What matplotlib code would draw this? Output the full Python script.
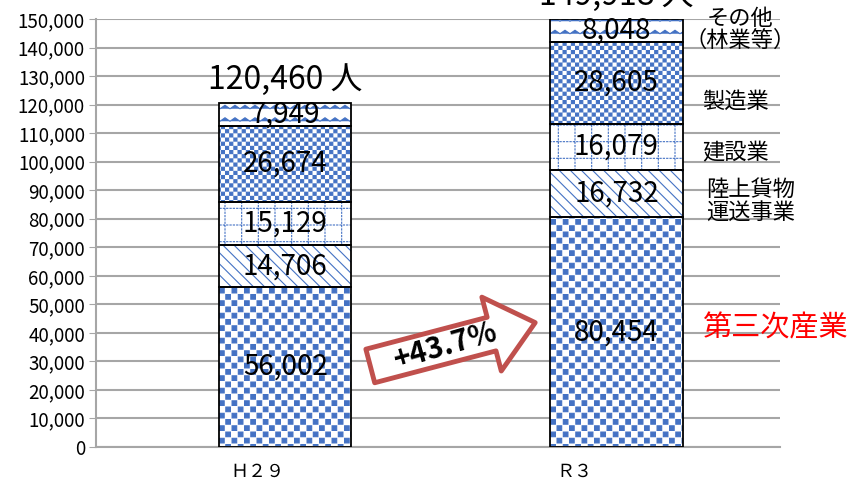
import warnings
import numpy as np
import matplotlib
matplotlib.use("Agg")
import matplotlib.pyplot as plt
import matplotlib.hatch as mhatch
from matplotlib.path import Path
from matplotlib.ticker import FuncFormatter, MultipleLocator
from matplotlib.transforms import ScaledTranslation

warnings.filterwarnings("ignore")

years = ["Ｈ２９", "Ｒ３"]
sectors = ["第三次産業", "陸上貨物運送事業", "建設業", "製造業", "その他（林業等）"]
h29 = [56002, 14706, 15129, 26674, 7949]
r3 = [80454, 16732, 16079, 28605, 8048]
growth_label = "+43.7%"

HATCH_LW = 0.8  # points


# extra hatch letters: "z" wavy rows, "g" dotted grid, "c"/"k" checkerboards
class ZigZag(mhatch.HatchPatternBase):
    def __init__(self, hatch, density):
        self.num_lines = hatch.count('z') * 8
        self.steps = 20
        self.num_vertices = self.num_lines * (self.steps + 1)

    def set_vertices_and_codes(self, vertices, codes):
        n = self.steps + 1
        xs = np.linspace(0, 1, n)
        bump = np.where(np.arange(n) % 2 == 0, 0.0, 0.035)
        for i in range(self.num_lines):
            y0 = (i + 0.3) / self.num_lines
            vertices[i * n:(i + 1) * n, 0] = xs
            vertices[i * n:(i + 1) * n, 1] = y0 + bump
            codes[i * n] = Path.MOVETO
            codes[i * n + 1:(i + 1) * n] = Path.LINETO


class DotGrid(mhatch.HatchPatternBase):
    def __init__(self, hatch, density):
        self.num_lines = hatch.count('g') * 6
        self.dots = 30
        self.num_vertices = self.num_lines * self.dots * 4

    def set_vertices_and_codes(self, vertices, codes):
        k = 0
        for i in range(self.num_lines):
            c = (i + 0.5) / self.num_lines
            for j in range(self.dots):
                a = j / self.dots
                b = a + 0.35 / self.dots
                for p, q in (((a, c), (b, c)), ((c, a), (c, b))):
                    vertices[k] = p
                    vertices[k + 1] = q
                    codes[k] = Path.MOVETO
                    codes[k + 1] = Path.LINETO
                    k += 2


class Checker(mhatch.HatchPatternBase):
    def __init__(self, hatch, density):
        self.n = hatch.count('c') * 24 + hatch.count('k') * 16
        self.cells = [(i, j) for i in range(self.n) for j in range(self.n)
                      if (i + j) % 2 == 0]
        self.num_vertices = len(self.cells) * 5

    def set_vertices_and_codes(self, vertices, codes):
        if not self.cells:
            return
        half = 0.37 / self.n
        for k, (i, j) in enumerate(self.cells):
            cx = (i + 0.5) / self.n
            cy = (j + 0.5) / self.n
            vertices[k * 5:k * 5 + 5] = [(cx - half, cy - half), (cx + half, cy - half),
                                         (cx + half, cy + half), (cx - half, cy + half),
                                         (cx - half, cy - half)]
            codes[k * 5] = Path.MOVETO
            codes[k * 5 + 1:k * 5 + 4] = Path.LINETO
            codes[k * 5 + 4] = Path.CLOSEPOLY


mhatch._hatch_types.extend([ZigZag, DotGrid, Checker])

plt.rcParams['font.family'] = ['Noto Sans CJK JP', 'DejaVu Sans']
plt.rcParams['hatch.linewidth'] = HATCH_LW

blue = '#4472c4'
# (face, hatch colour, hatch) per sector, bottom to top
looks = [
    ('white', blue, 'k'),
    ('white', blue, '\\\\\\'),
    ('white', blue, 'g'),
    ('white', blue, 'c'),
    ('white', blue, 'z'),
]

fig = plt.figure(figsize=(8.5, 4.82), dpi=100)
ax = fig.add_axes([0.113, 0.0726, 0.805, 0.888])

x = np.arange(len(years))
width = 0.40
data = np.array([h29, r3])
bottoms = np.zeros(len(years))
for k in range(len(sectors)):
    vals = data[:, k]
    face, hcol, hatch = looks[k]
    ax.bar(x, vals, width, bottom=bottoms, color=face, edgecolor=hcol,
           hatch=hatch, linewidth=0, zorder=2)
    ax.bar(x, vals, width, bottom=bottoms, fill=False, edgecolor='black',
           linewidth=1.3, zorder=3)
    for xi, v, b in zip(x, vals, bottoms):
        ax.text(xi, b + v / 2, f"{v:,}", ha='center', va='center',
                fontsize=20, zorder=4)
    bottoms += vals

for xi, tot in zip(x, bottoms):
    ax.annotate(f"{int(tot):,} 人", xy=(xi, tot), xytext=(0, 5),
                textcoords='offset points', ha='center', va='bottom',
                fontsize=23, annotation_clip=False)

# sector names on the right
ax.text(1.375, 146300, "その他\n（林業等）", ha='center', va='center',
        fontsize=16, linespacing=0.95)
ax.text(1.36, 121300, "製造業", ha='center', va='center', fontsize=16)
ax.text(1.36, 103100, "建設業", ha='center', va='center', fontsize=16)
ax.text(1.405, 86000, "陸上貨物\n運送事業", ha='center', va='center',
        fontsize=16, linespacing=1.05)
ax.text(1.48, 41700, "第三次産業", ha='center', va='center', fontsize=21,
        color='#ff0000')

# growth arrow
ax.annotate('', xy=(0.755, 43600), xytext=(0.257, 28400),
            arrowprops=dict(arrowstyle='simple,head_length=0.65,head_width=1.1,tail_width=0.5',
                            mutation_scale=50, fc='white', ec='#c0504d', lw=3.5,
                            shrinkA=0, shrinkB=0),
            zorder=5)
ax.text(0.483, 35400, growth_label, rotation=16, ha='center', va='center',
        fontsize=21, fontweight='bold', zorder=6)

ax.set_xlim(-0.571, 1.495)
ax.set_ylim(0, 150000)
ax.yaxis.set_major_locator(MultipleLocator(10000))
ax.yaxis.set_major_formatter(FuncFormatter(lambda v, p: f"{int(v):,}"))
ax.set_xticks(x)
ax.set_xticklabels(years, fontsize=13)
ax.tick_params(axis='x', length=0, pad=11)
ax.tick_params(axis='y', labelsize=13.5, length=5, color='#a6a6a6', pad=3)
for lbl, dx in zip(ax.get_xticklabels(), [-0.28, -0.42]):
    lbl.set_transform(lbl.get_transform() + ScaledTranslation(dx, 0, fig.dpi_scale_trans))
ax.grid(axis='y', color='#a6a6a6', linewidth=1.5, zorder=0)
ax.set_axisbelow(True)
for s in ['top', 'right']:
    ax.spines[s].set_visible(False)
for s in ['left', 'bottom']:
    ax.spines[s].set_color('#a6a6a6')
    ax.spines[s].set_linewidth(1.5)

fig.savefig('out.png', dpi=100)
